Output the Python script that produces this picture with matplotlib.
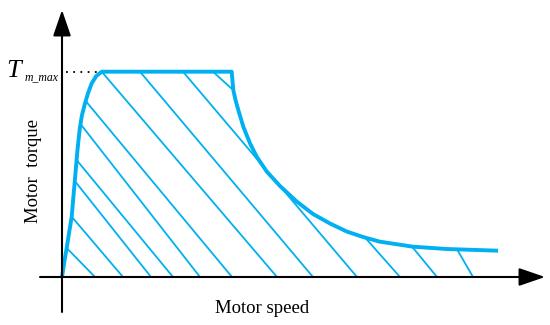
import matplotlib
matplotlib.use("Agg")
import matplotlib.pyplot as plt

# ---- data (speed, torque in arbitrary chart units) ----
tm_max = 205.3
curve_speed = [0, 2.3, 4.7, 7.2, 9.7, 11.3, 12.8, 14.0, 15.2, 16.5, 18, 20, 23, 26, 29.7, 34.3, 39.7,
               169.7, 171.3, 173.5, 176.3, 181.3, 188, 194.7, 204.7, 218, 234.7,
               251, 268, 284.7, 301, 318, 351, 384.7, 436]
curve_torque = [0, 15, 29, 45, 60.3, 79, 96, 110, 124, 137, 150, 162, 173.7, 183.7, 193.7, 201, tm_max,
                tm_max, 187, 177, 167, 150.3, 133.7, 120.3, 105.5, 91, 75.5,
                63, 53.5, 45.5, 40, 35.3, 30.3, 28, 26.3]

# hatch segments: (start speed, start torque) -> (end speed, end torque)
hatch_x0 = [4.7, 9.7, 12.8, 14.6, 18.5, 23.7, 39.7, 78, 121, 151, 303, 350, 395]
hatch_y0 = [29, 60.3, 96, 117, 153, 176, tm_max, tm_max, tm_max, tm_max, 39.5, 30.4, 27.7]
hatch_x1 = [33, 61, 89, 111, 138, 170, 215, 251, 295, 170, 338, 375, 411]
hatch_y1 = [0, 0, 0, 0, 0, 0, 0, 0, 0, 188, 0, 0, 0]

x_label = "Motor speed"
y_label = "Motor  torque"
t_main = "T"
t_sub = "m_max"

# ---- style ----
plt.rcParams['font.family'] = ['Liberation Serif', 'DejaVu Serif']

blue = '#00B0F0'

fig = plt.figure(figsize=(5.5, 3.25), dpi=100)
ax = fig.add_axes([0, 0, 1, 1])
ax.set_xlim(-62, 488)
ax.set_ylim(-48, 277)
ax.axis('off')

# hatch lines
for x0, y0, x1, y1 in zip(hatch_x0, hatch_y0, hatch_x1, hatch_y1):
    ax.plot([x0, x1], [y0, y1], color=blue, lw=1.3, solid_capstyle='butt', zorder=2)

# main curve
ax.plot(curve_speed, curve_torque, color=blue, lw=2.8, solid_joinstyle='round',
        solid_capstyle='butt', zorder=3)

# axes arrows
arrow = dict(arrowstyle='-|>,head_length=1.6,head_width=0.55', mutation_scale=10,
             lw=1.5, color='black', shrinkA=0, shrinkB=0)
ax.annotate('', xy=(483, 0), xytext=(-22, 0), arrowprops=arrow, zorder=4)
ax.annotate('', xy=(0, 267), xytext=(0, -35), arrowprops=arrow, zorder=4)

# dotted guide to T_max
ax.plot([4, 38], [tm_max, tm_max], color='black', lw=1.3, dashes=(1, 3), zorder=1)

# labels
ax.text(-56, 200, t_main, fontsize=19, style='italic', ha='left', va='baseline')
ax.text(-37, 196.5, t_sub, fontsize=8.5, style='italic', ha='left', va='baseline')
ax.text(200, -35.7, x_label, fontsize=13.5, ha='center', va='baseline')
ax.text(-29, 106, y_label, fontsize=13.5, ha='center', va='center', rotation=90)

fig.savefig('out.png', dpi=100)
